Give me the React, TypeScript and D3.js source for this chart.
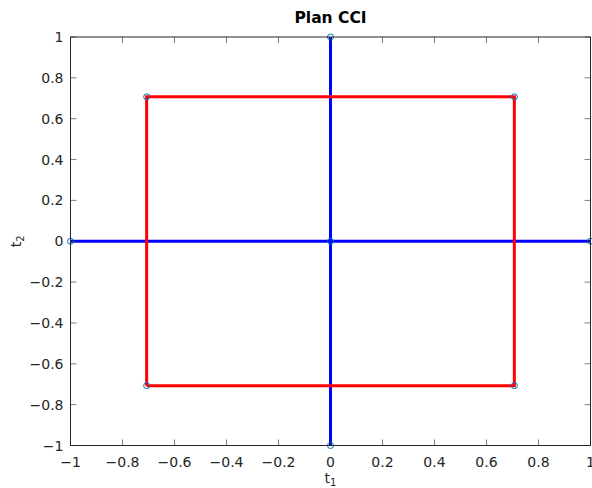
import React from "react";
import * as d3 from "d3";

const r = Math.SQRT1_2;
const blueH: [number, number][] = [[-1, 0], [0, 0], [1, 0]];
const blueV: [number, number][] = [[0, -1], [0, 0], [0, 1]];
const redSquare: [number, number][] = [[-r, -r], [r, -r], [r, r], [-r, r], [-r, -r]];
const markers: [number, number][] = [
  [-1, 0], [1, 0], [0, -1], [0, 1], [0, 0],
  [-r, -r], [r, -r], [r, r], [-r, r],
];
const xTicks = [-1, -0.8, -0.6, -0.4, -0.2, 0, 0.2, 0.4, 0.6, 0.8, 1];
const yTicks = [-1, -0.8, -0.6, -0.4, -0.2, 0, 0.2, 0.4, 0.6, 0.8, 1];
const title = "Plan CCI";

const W = 592, H = 488;
const L = 70.5, R = 590.5, T = 37, B = 445.5;

const fmt = (v: number) => {
  const s = d3.format("")(Math.round(v * 10) / 10);
  return s.replace("-", "\u2212");
};

export default function App() {
  const x = d3.scaleLinear().domain([-1, 1]).range([L, R]);
  const y = d3.scaleLinear().domain([-1, 1]).range([B, T]);
  const line = d3.line<[number, number]>().x(d => x(d[0])).y(d => y(d[1]));
  const font = "'DejaVu Sans', sans-serif";
  const tickLen = 6;
  return (
    <svg width={W} height={H} style={{ position: "absolute", left: 0, top: 0, background: "#fff" }}
      fontFamily={font}>
      <rect x={0} y={0} width={W} height={H} fill="#fff" />
      <path d={line(blueH)!} fill="none" stroke="#0000ff" strokeWidth={3} />
      <path d={line(blueV)!} fill="none" stroke="#0000ff" strokeWidth={3} />
      <path d={line(redSquare)!} fill="none" stroke="#ff0000" strokeWidth={3} />
      {markers.map((d, i) => (
        <circle key={i} cx={x(d[0])} cy={y(d[1])} r={3} fill="none" stroke="#0072bd" strokeWidth={1} />
      ))}
      {xTicks.map((t, i) => (
        <g key={"x" + i}>
          <line x1={x(t)} x2={x(t)} y1={B} y2={B - tickLen} stroke="#262626" strokeWidth={0.6} />
          <line x1={x(t)} x2={x(t)} y1={T} y2={T + tickLen} stroke="#262626" strokeWidth={0.6} />
          <text x={x(t)} y={B + 21} textAnchor="middle" fontSize={14} fill="#262626">{fmt(t)}</text>
        </g>
      ))}
      {yTicks.map((t, i) => (
        <g key={"y" + i}>
          <line x1={L} x2={L + tickLen} y1={y(t)} y2={y(t)} stroke="#262626" strokeWidth={0.6} />
          <line x1={R} x2={R - tickLen} y1={y(t)} y2={y(t)} stroke="#262626" strokeWidth={0.6} />
          <text x={L - 7} y={y(t)} dy="0.36em" textAnchor="end" fontSize={14} fill="#262626">{fmt(t)}</text>
        </g>
      ))}
      <rect x={L} y={T} width={R - L} height={B - T} fill="none" stroke="#262626" strokeWidth={1} />
      <text x={(L + R) / 2} y={23} textAnchor="middle" fontSize={15.5} fontWeight="bold" fill="#000">{title}</text>
      <text x={(L + R) / 2} y={483} textAnchor="middle" fontSize={14} fill="#262626">
        t<tspan fontSize={10} dy={3}>1</tspan>
      </text>
      <text transform={`translate(21,${(T + B) / 2}) rotate(-90)`} textAnchor="middle" fontSize={14} fill="#262626">
        t<tspan fontSize={10} dy={3}>2</tspan>
      </text>
    </svg>
  );
}
